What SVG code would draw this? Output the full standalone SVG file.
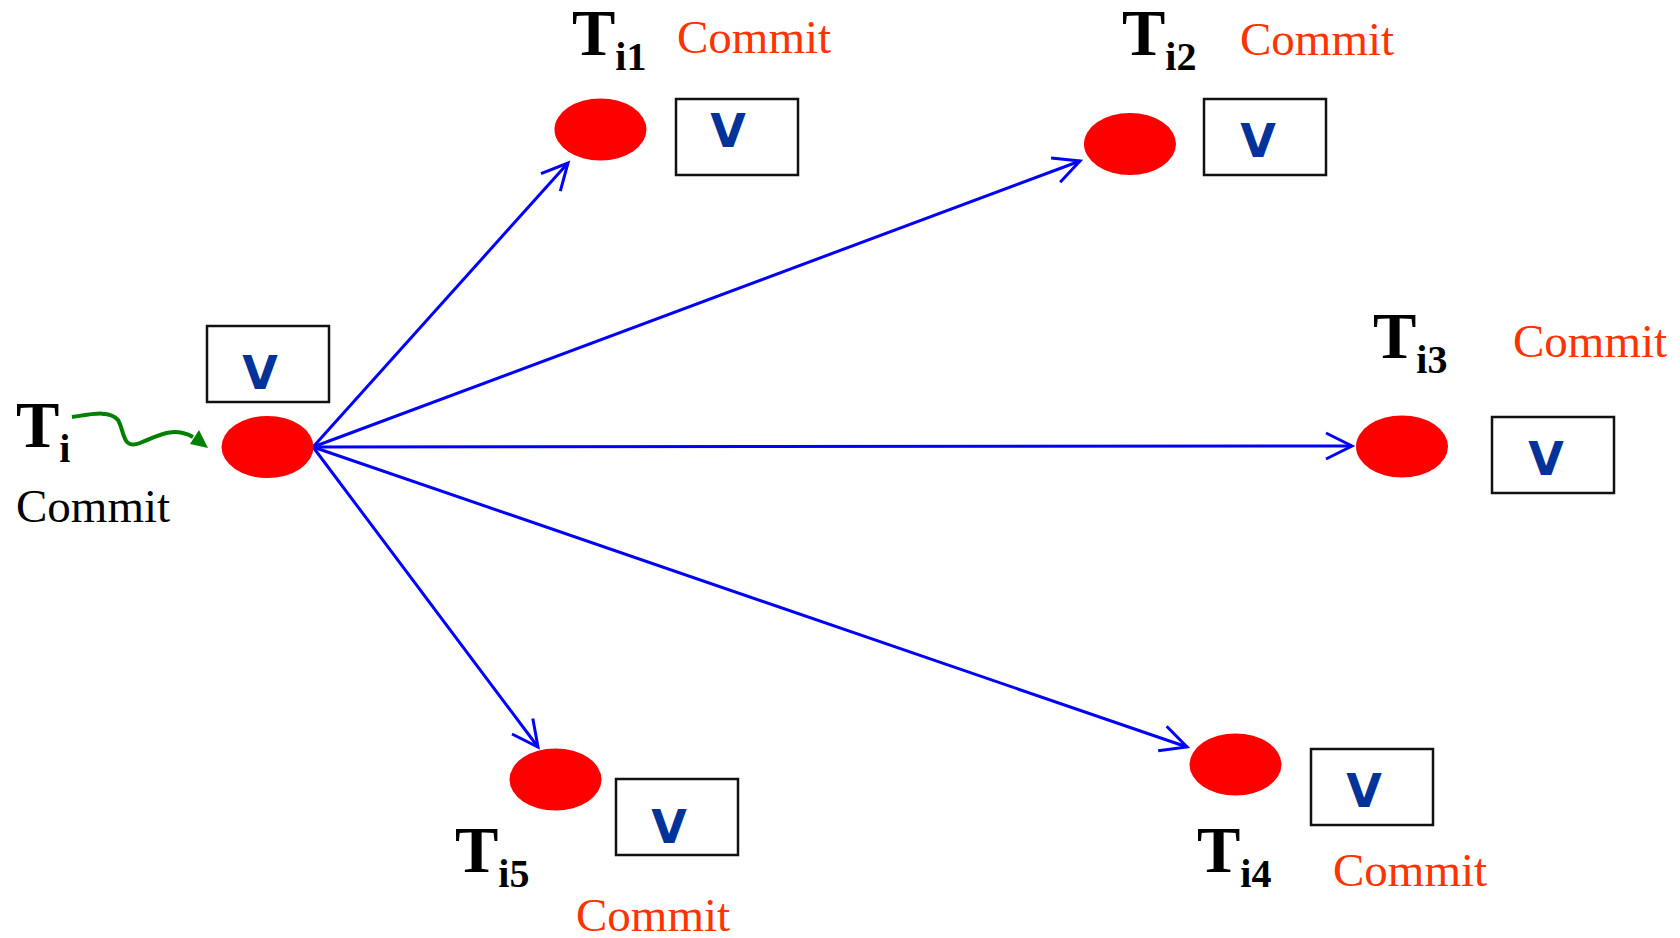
<svg xmlns="http://www.w3.org/2000/svg" width="1680" height="938" viewBox="0 0 1680 938">
<style>
.node{fill:#FF0000}
.box{fill:#FFFFFF;stroke:#111;stroke-width:2.5}
.v{font-family:"DejaVu Sans",Verdana,sans-serif;font-weight:bold;font-size:46px;fill:#003399;text-anchor:middle}
.T{font-family:"Liberation Serif","Times New Roman",serif;font-weight:bold;font-size:65px;fill:#000}
.sub{font-size:40px}
.commit{font-family:"Liberation Serif","Times New Roman",serif;font-size:47px;fill:#FF3300}
.commitb{font-family:"Liberation Serif","Times New Roman",serif;font-size:47px;fill:#000}
.edge{stroke:#0000FF;stroke-width:3;fill:none;marker-end:url(#arr)}
</style>
<defs>
<marker id="arr" markerUnits="userSpaceOnUse" orient="auto" refX="0" refY="0" markerWidth="40" markerHeight="40" overflow="visible">
<path d="M-26,-13 L0,0 L-26,13" fill="none" stroke="#0000FF" stroke-width="3"/>
</marker>
</defs>
<rect width="1680" height="938" fill="#FFFFFF"/>
<g id="connectors">
<line class="edge" x1="313" y1="447" x2="568" y2="163"/>
<line class="edge" x1="313" y1="447" x2="1080" y2="161"/>
<line class="edge" x1="313" y1="447" x2="1352" y2="446"/>
<line class="edge" x1="313" y1="447" x2="1187" y2="747"/>
<line class="edge" x1="313" y1="447" x2="538" y2="747"/>
<path d="M72,417 C92,414 110,410 118,420 C125,432 122,450 140,443 C158,436 172,426 193,437" fill="none" stroke="#008000" stroke-width="4"/>
<polygon points="190,444 199,430 208,448" fill="#008000"/>
</g>
<g id="Ti">
<rect class="box" x="207" y="326" width="122" height="76"/>
<text class="v" x="260" y="389">V</text>
<ellipse class="node" cx="267.5" cy="447" rx="46" ry="31"/>
<text class="T" x="16" y="447">T<tspan class="sub" dy="15">i</tspan></text>
<text class="commitb" x="16" y="522">Commit</text>
</g>
<g id="Ti1">
<ellipse class="node" cx="600.5" cy="129.5" rx="46" ry="31"/>
<rect class="box" x="676" y="99" width="122" height="76"/>
<text class="v" x="728" y="147">V</text>
<text class="T" x="572" y="55">T<tspan class="sub" dy="15">i1</tspan></text>
<text class="commit" x="677" y="53">Commit</text>
</g>
<g id="Ti2">
<ellipse class="node" cx="1130" cy="144" rx="46" ry="31"/>
<rect class="box" x="1204" y="99" width="122" height="76"/>
<text class="v" x="1258" y="157">V</text>
<text class="T" x="1122" y="55">T<tspan class="sub" dy="15">i2</tspan></text>
<text class="commit" x="1240" y="55">Commit</text>
</g>
<g id="Ti3">
<ellipse class="node" cx="1402" cy="446.5" rx="46" ry="31"/>
<rect class="box" x="1492" y="417" width="122" height="76"/>
<text class="v" x="1546" y="475">V</text>
<text class="T" x="1373" y="358">T<tspan class="sub" dy="15">i3</tspan></text>
<text class="commit" x="1513" y="357">Commit</text>
</g>
<g id="Ti4">
<ellipse class="node" cx="1235.5" cy="764.5" rx="46" ry="31"/>
<rect class="box" x="1311" y="749" width="122" height="76"/>
<text class="v" x="1364" y="807">V</text>
<text class="T" x="1197" y="872">T<tspan class="sub" dy="15">i4</tspan></text>
<text class="commit" x="1333" y="886">Commit</text>
</g>
<g id="Ti5">
<ellipse class="node" cx="555.5" cy="779.5" rx="46" ry="31"/>
<rect class="box" x="616" y="779" width="122" height="76"/>
<text class="v" x="669" y="843">V</text>
<text class="T" x="455" y="872">T<tspan class="sub" dy="15">i5</tspan></text>
<text class="commit" x="576" y="931">Commit</text>
</g>
</svg>
